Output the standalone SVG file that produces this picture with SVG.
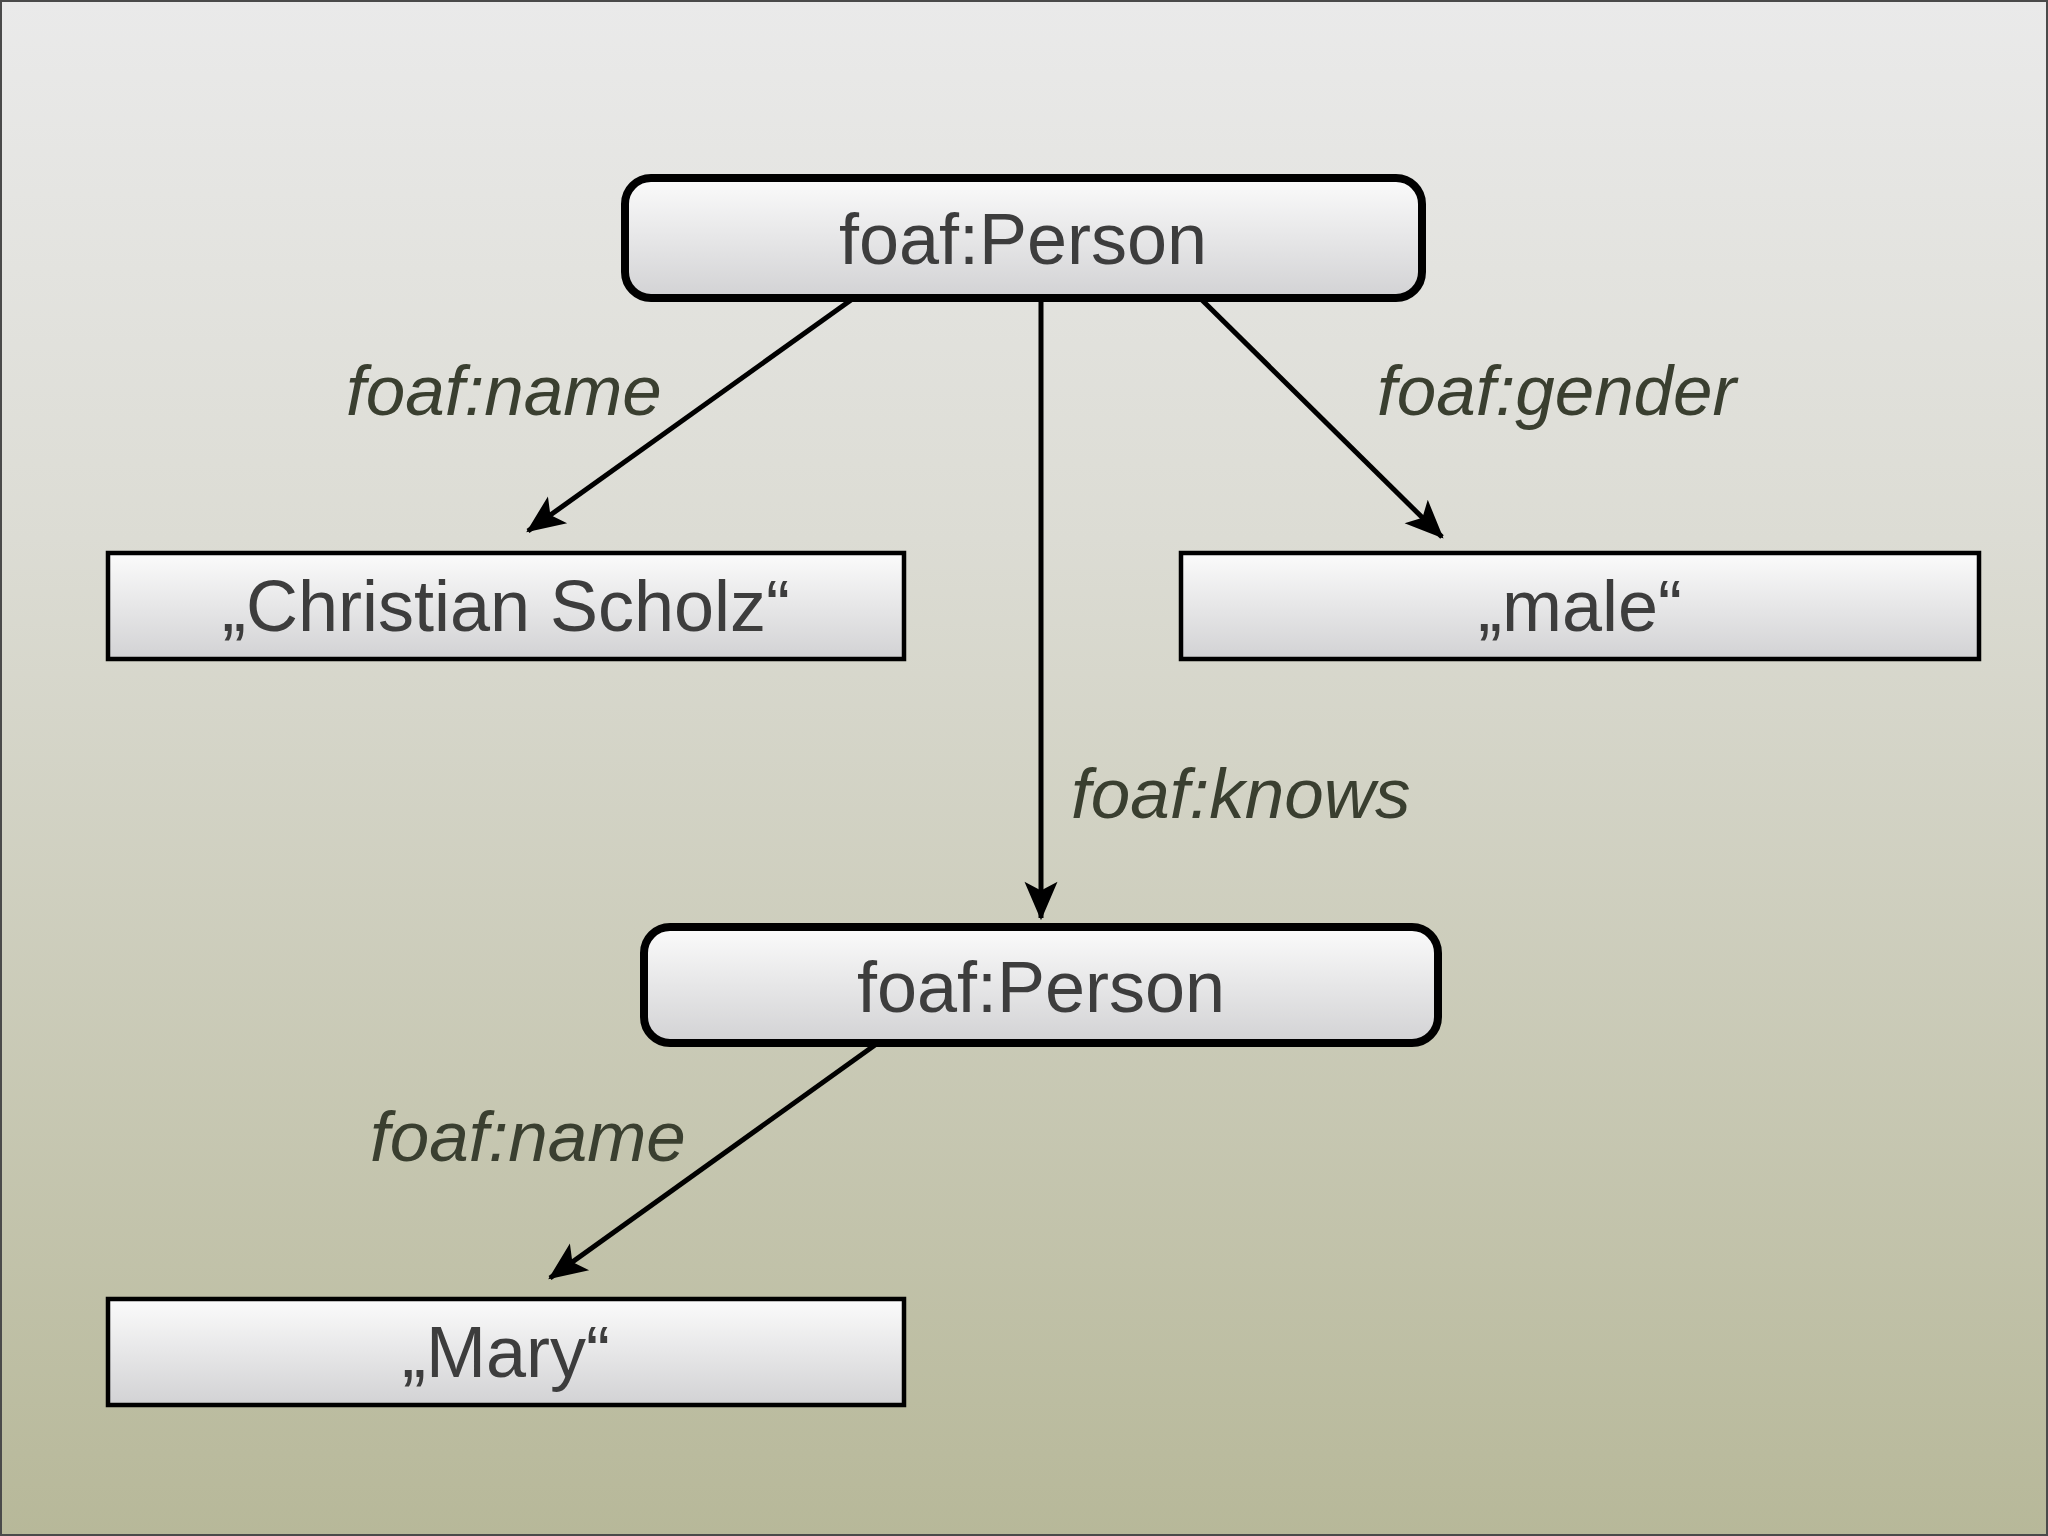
<svg xmlns="http://www.w3.org/2000/svg" width="2048" height="1536" viewBox="0 0 2048 1536">
  <defs>
    <linearGradient id="bg" x1="0" y1="0" x2="0" y2="1">
      <stop offset="0" stop-color="#eaeaea"/>
      <stop offset="0.35" stop-color="#dcdcd4"/>
      <stop offset="1" stop-color="#b7b899"/>
    </linearGradient>
    <linearGradient id="nodeFill" x1="0" y1="0" x2="0" y2="1">
      <stop offset="0" stop-color="#fbfbfb"/>
      <stop offset="1" stop-color="#d2d2d4"/>
    </linearGradient>
    <marker id="arrow" markerUnits="userSpaceOnUse" markerWidth="44" markerHeight="44" viewBox="-36 -18 40 36" refX="0" refY="0" orient="auto">
      <path d="M2,0 L-33,-15 L-25,0 L-33,15 Z" fill="#000"/>
    </marker>
    <style>
      .round { fill: url(#nodeFill); stroke: #000; stroke-width: 8; }
      .box { fill: url(#nodeFill); stroke: #000; stroke-width: 4.5; }
      .ntext { font-family: "Liberation Sans", Arial, Helvetica, sans-serif; font-size: 72px; fill: #3d3d3d; text-anchor: middle; }
      .ltext { font-family: "Liberation Sans", Arial, Helvetica, sans-serif; font-size: 71px; font-style: italic; fill: #3a3f30; }
      .edge { stroke: #000; stroke-width: 5; fill: none; marker-end: url(#arrow); }
    </style>
  </defs>
  <rect x="0" y="0" width="2048" height="1536" fill="url(#bg)"/>
  <rect x="1" y="1" width="2046" height="1534" fill="none" stroke="#4a4a4a" stroke-width="2"/>

  <g id="connectors">
    <line class="edge" x1="851" y1="300" x2="528" y2="531"/>
    <line class="edge" x1="1041" y1="300" x2="1041" y2="918"/>
    <line class="edge" x1="1202" y1="300" x2="1442" y2="537"/>
    <line class="edge" x1="875" y1="1045" x2="550" y2="1278"/>
    <text class="ltext" x="346" y="415">foaf:name</text>
    <text class="ltext" x="1377" y="415">foaf:gender</text>
    <text class="ltext" x="1071" y="818">foaf:knows</text>
    <text class="ltext" x="370" y="1161">foaf:name</text>
  </g>

  <g id="person1">
    <rect class="round" x="625" y="178" width="797" height="120" rx="26" ry="26"/>
    <text class="ntext" x="1023" y="264">foaf:Person</text>
  </g>
  <g id="name1">
    <rect class="box" x="108" y="553" width="796" height="106"/>
    <text class="ntext" x="506" y="631">„Christian Scholz“</text>
  </g>
  <g id="gender1">
    <rect class="box" x="1181" y="553" width="798" height="106"/>
    <text class="ntext" x="1580" y="631">„male“</text>
  </g>
  <g id="person2">
    <rect class="round" x="644" y="927" width="794" height="116" rx="26" ry="26"/>
    <text class="ntext" x="1041" y="1012">foaf:Person</text>
  </g>
  <g id="name2">
    <rect class="box" x="108" y="1299" width="796" height="106"/>
    <text class="ntext" x="506" y="1377">„Mary“</text>
  </g>
</svg>
